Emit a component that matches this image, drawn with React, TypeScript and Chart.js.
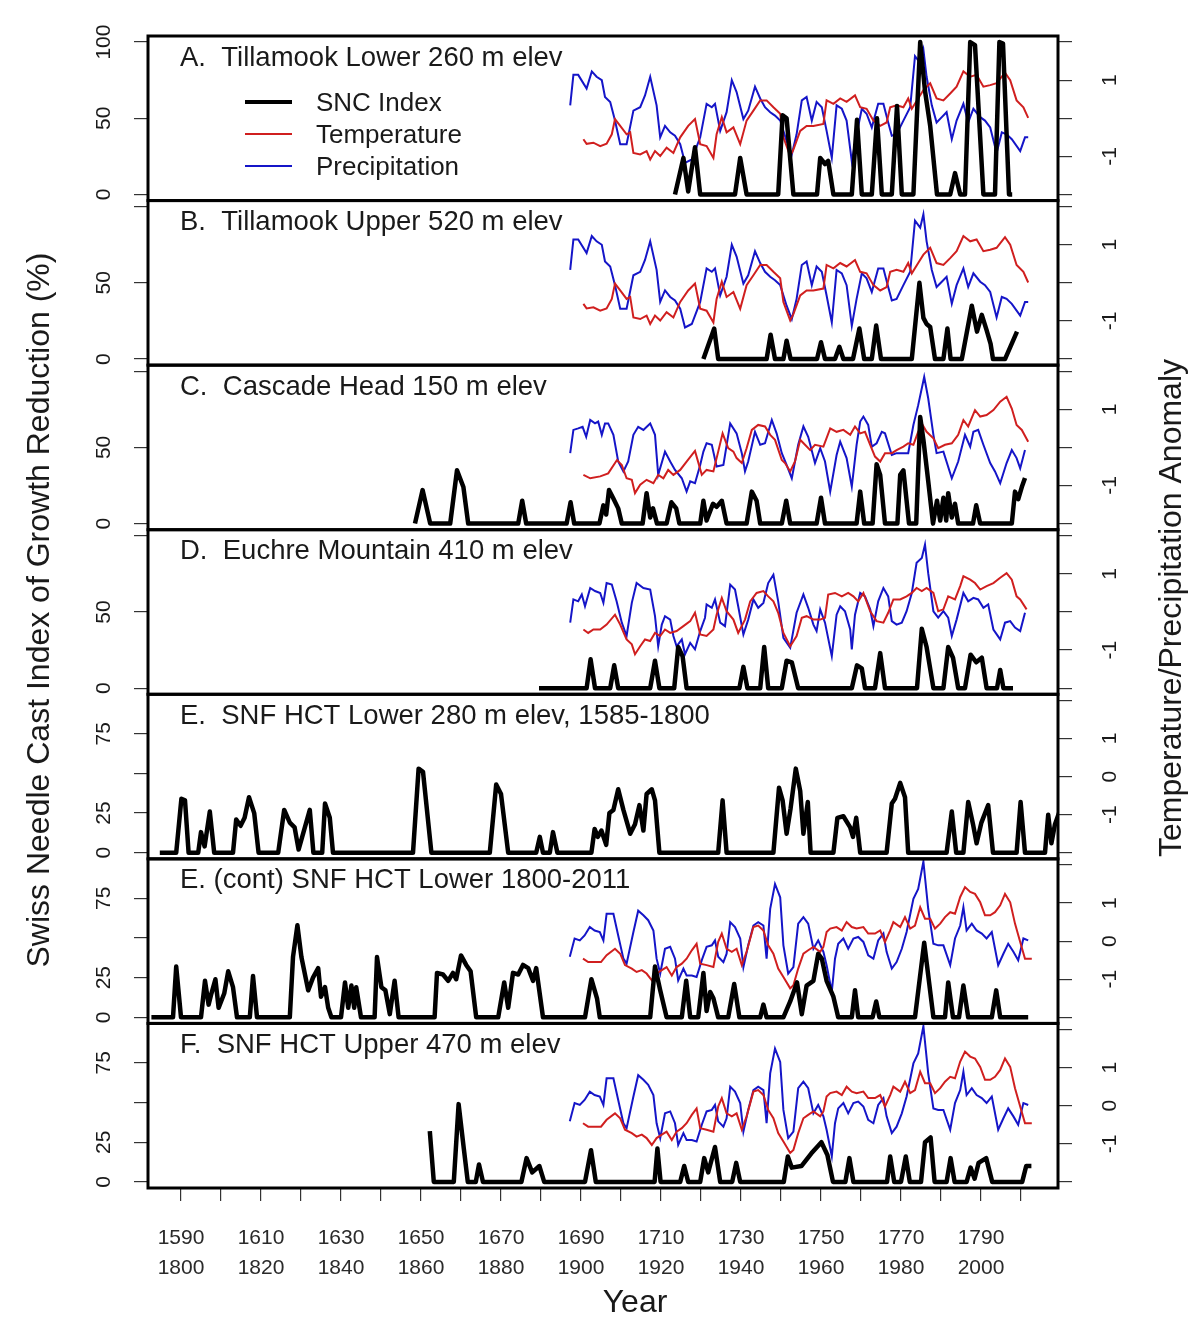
import React, { useEffect, useRef } from 'react';
import { Chart, registerables } from 'chart.js';
Chart.register(...registerables);

type Pt = [number, number];

// ---------- x axis (years) ----------
const X_TICK_YEARS = [1590, 1600, 1610, 1620, 1630, 1640, 1650, 1660, 1670, 1680, 1690, 1700, 1710, 1720, 1730, 1740, 1750, 1760, 1770, 1780, 1790, 1800];
const X_LABEL_UPPER = [1590, 1610, 1630, 1650, 1670, 1690, 1710, 1730, 1750, 1770, 1790];
const X_LABEL_LOWER = [1800, 1820, 1840, 1860, 1880, 1900, 1920, 1940, 1960, 1980, 2000];
const MODERN_OFFSET = 210; // 1800-2011 panels share the axis with 1590-1800

// ---------- SNC index series (year, % growth reduction) ----------
const SNC_A: Pt[] = [[1923.5,0],[1925.6,24],[1926.8,2],[1928.5,31],[1929.8,0],[1938.5,0],[1939.8,24],[1941.4,0],[1949.3,0],[1950.4,52],[1951.4,50],[1953.1,0],[1959,0],[1959.8,24],[1961,20],[1961.8,22],[1963.1,0],[1967.7,0],[1969,49],[1970.2,0],[1972.7,0],[1974,50],[1975.2,0],[1977.7,0],[1979,58],[1980.2,0],[1983.1,0],[1984.8,100],[1986,68],[1987.3,45],[1989,0],[1992.3,0],[1993.5,14],[1994.8,0],[1996,0],[1997.3,100],[1998.5,98],[2000.6,0],[2003.5,0],[2004.6,100],[2005.5,99],[2007,0],[2007.8,0]];
const SNC_B: Pt[] = [[1930.6,0],[1933.3,20],[1934.3,0],[1946.4,0],[1947.4,16],[1948.5,0],[1950.6,0],[1951.4,12],[1952.4,0],[1959,0],[1960,11],[1961,0],[1963.5,0],[1964.6,8],[1965.6,0],[1968,0],[1969.6,20],[1970.8,0],[1972.7,0],[1973.8,22],[1975,0],[1982.7,0],[1984.6,50],[1985.6,27],[1986.4,23],[1987.3,21],[1988.5,0],[1990.6,0],[1991.6,20],[1992.4,0],[1995.2,0],[1997.7,35],[1999,18],[2000.2,29],[2001.4,19],[2002.4,10],[2003,0],[2006,0],[2009,18]];
const SNC_C: Pt[] = [[1858.5,0],[1860.4,22],[1862.3,0],[1867.3,0],[1869,35],[1870.6,24],[1871.8,0],[1884.3,0],[1885.3,15],[1886.3,0],[1896.4,0],[1897.4,14],[1898.3,0],[1904.6,0],[1905.6,12],[1906.3,6],[1907,22],[1908,17],[1909.3,10],[1910.2,0],[1915.4,0],[1916.4,20],[1917.3,4],[1918,10],[1919,0],[1921.4,0],[1922.6,14],[1923.8,10],[1924.6,0],[1929.8,0],[1930.6,15],[1931.4,2],[1933,13],[1933.9,11],[1935.2,15],[1936.4,0],[1941.4,0],[1942.7,21],[1943.9,15],[1944.8,0],[1950.2,0],[1951.3,15],[1952.3,0],[1958.9,0],[1960,17],[1961,0],[1968.9,0],[1969.8,21],[1970.8,0],[1972.9,0],[1973.9,39],[1974.8,32],[1976,0],[1979.1,0],[1979.8,32],[1980.6,35],[1982,0],[1983.8,0],[1984.8,70],[1985.6,55],[1986.8,28],[1988,0],[1989,15],[1989.8,2],[1990.6,17],[1991.3,2],[1991.8,20],[1992.7,4],[1993.5,13],[1994.3,0],[1998,0],[1998.8,12],[1999.8,0],[2007.7,0],[2008.5,21],[2009.3,16],[2010.2,24],[2011,30]];
const SNC_D: Pt[] = [[1889.5,0],[1901.4,0],[1902.4,19],[1903.5,0],[1907.3,0],[1908.3,15],[1909.3,0],[1917.3,0],[1918.5,18],[1919.6,0],[1923.3,0],[1924.3,27],[1925.4,21],[1926.4,0],[1939.6,0],[1940.6,14],[1941.6,0],[1944.8,0],[1945.8,27],[1946.8,0],[1950.2,0],[1951.4,18],[1952.7,17],[1954.3,0],[1967.7,0],[1969,15],[1970.2,13],[1971,0],[1973.5,0],[1974.8,23],[1976,0],[1984,0],[1985.2,39],[1986.4,27],[1988.1,0],[1990.6,0],[1991.8,27],[1993,20],[1994.3,0],[1996,0],[1997.4,22],[1998.8,17],[2000.2,20],[2001.4,0],[2004,0],[2004.8,12],[2005.6,0],[2008,0]];
const SNC_E: Pt[] = [[1584.7,0],[1588.8,0],[1590.1,34],[1591,33],[1591.9,0],[1594.3,0],[1595,13],[1595.9,4],[1597.2,26],[1598.3,0],[1603,0],[1603.8,21],[1604.9,17],[1605.9,22],[1607,35],[1608.3,25],[1609.4,0],[1614.3,0],[1615.8,27],[1617.2,19],[1618.4,16],[1619.4,2],[1622.2,27],[1623.1,0],[1625.3,0],[1626,31],[1627.2,22],[1628,0],[1648,0],[1649.4,53],[1650.5,51],[1652.6,0],[1667.2,0],[1668.8,43],[1670,37],[1671.8,0],[1678.8,0],[1679.7,10],[1680.5,0],[1682.2,0],[1683,13],[1684.1,0],[1692.6,0],[1693.4,15],[1694.2,10],[1695.1,14],[1696.3,5],[1697.1,25],[1698.1,27],[1699.3,40],[1700.6,27],[1702.3,12],[1703.5,18],[1704.6,30],[1705.6,14],[1706.4,37],[1707.7,40],[1708.5,33],[1709.6,0],[1724.3,0],[1725.4,33],[1726.4,0],[1738.1,0],[1739.5,41],[1740.4,33],[1741.4,12],[1742.4,28],[1743.7,53],[1744.8,39],[1745.6,12],[1746.7,32],[1747.4,0],[1753.1,0],[1754.1,22],[1755.6,23],[1757.3,16],[1758,10],[1758.8,22],[1759.8,0],[1766.4,0],[1767.7,31],[1768.5,34],[1769.8,44],[1771,35],[1771.8,0],[1781.4,0],[1782.7,26],[1783.8,0],[1785.6,0],[1786.8,32],[1788,18],[1788.9,6],[1790.1,19],[1791.8,30],[1793,0],[1798.9,0],[1799.9,32],[1801,0],[1806,0],[1806.8,24],[1807.6,6],[1808.5,18],[1809.5,25]];
const SNC_E2: Pt[] = [[1792.6,0],[1798,0],[1798.8,32],[1800,0],[1805,0],[1806,23],[1806.9,8],[1807.6,15],[1808.6,24],[1809.4,6],[1810.8,15],[1811.8,29],[1813,19],[1814,0],[1817.2,0],[1818,26],[1819,0],[1827.2,0],[1828,38],[1829.1,58],[1830.1,38],[1831.8,17],[1833,25],[1834.3,31],[1835,13],[1836,19],[1836.8,6],[1837.6,0],[1840,0],[1841,22],[1841.8,6],[1842.6,20],[1843.3,6],[1843.8,19],[1845,0],[1848.4,0],[1849,38],[1850.1,19],[1851.1,17],[1852.2,2],[1853.4,23],[1854.4,0],[1863.4,0],[1864,28],[1865.5,27],[1866.8,23],[1868,28],[1868.8,24],[1870,39],[1871.3,33],[1872.4,29],[1873.8,0],[1879.3,0],[1880.8,22],[1881.8,6],[1883,28],[1884.3,27],[1885.5,33],[1886.8,31],[1888,23],[1888.8,31],[1890.5,0],[1901,0],[1902.6,24],[1904,12],[1904.7,0],[1917.3,0],[1918.5,32],[1919.8,17],[1921.4,0],[1925.2,0],[1926.3,23],[1927.3,0],[1929.3,0],[1930.6,28],[1931.4,4],[1932.3,16],[1933.1,12],[1934.3,0],[1936.8,0],[1938.3,21],[1939.6,0],[1944.8,0],[1945.6,8],[1946.4,0],[1950.6,0],[1952.3,10],[1954,22],[1955.2,2],[1956.4,20],[1958.1,23],[1959.3,40],[1960.2,37],[1961.4,23],[1963.1,13],[1964.3,0],[1967.7,0],[1968.5,17],[1969.3,0],[1972.9,0],[1973.8,10],[1974.6,0],[1983.5,0],[1985.8,47],[1988.1,0],[1991,0],[1991.8,22],[1993,0],[1994.5,0],[1995.6,20],[1996.8,0],[2002.7,0],[2003.8,17],[2004.8,0],[2011.8,0]];
const SNC_F: Pt[] = [[1862.2,32],[1863.2,0],[1868.2,0],[1869.4,49],[1870.7,21],[1871.7,0],[1873.7,0],[1874.5,11],[1875.5,0],[1885.1,0],[1886.4,15],[1887.8,6],[1889.6,10],[1890.8,0],[1901,0],[1902.5,20],[1903.7,0],[1918.4,0],[1919.1,21],[1919.9,0],[1924.8,0],[1925.8,10],[1926.8,0],[1929.8,0],[1930.8,15],[1931.8,6],[1933.5,22],[1934.8,0],[1937.8,0],[1938.8,12],[1939.8,0],[1950.7,0],[1951.7,16],[1952.7,9],[1955.1,10],[1957.6,18],[1960.1,25],[1961.6,17],[1963,0],[1966.1,0],[1967.1,15],[1968.1,0],[1976.5,0],[1977.3,16],[1978.3,0],[1980,0],[1981.2,16],[1982.2,0],[1985,0],[1986,25],[1987.4,28],[1988.4,0],[1991.4,0],[1992.4,15],[1993.4,0],[1996.4,0],[1997.4,9],[1998.4,2],[1999.4,12],[2001.3,15],[2002.8,0],[2010.3,0],[2011.3,10],[2012.6,10]];

// ---------- climate anomalies (year, anomaly) ----------
const TEMP_TILLAMOOK: Pt[] = [[1900.6,-0.55],[1901.4,-0.67],[1903.1,-0.64],[1904.8,-0.73],[1906.4,-0.67],[1907.7,-0.42],[1908.5,-0.02],[1909.8,-0.2],[1911.4,-0.42],[1912.3,-0.37],[1913.1,-0.91],[1914.8,-0.95],[1916.4,-0.86],[1917.3,-1.08],[1918.5,-0.86],[1919.8,-0.99],[1921.4,-0.77],[1923.1,-0.91],[1924.8,-0.5],[1926.8,-0.2],[1928.5,-0.02],[1929.8,-0.68],[1931.4,-0.73],[1933.1,-1.04],[1933.9,-0.42],[1935.2,0.03],[1936.4,-0.37],[1938.1,-0.24],[1939.8,-0.68],[1941.4,-0.06],[1943.1,0.2],[1944.8,0.47],[1946.4,0.47],[1948.1,0.29],[1949.8,0.12],[1950.6,-0.5],[1952.3,-0.99],[1953.1,-0.82],[1954.8,-0.33],[1956.4,-0.2],[1958.1,-0.2],[1960.6,-0.15],[1961.4,0.47],[1963.1,0.38],[1964.8,0.52],[1966.4,0.43],[1968.5,0.6],[1969.8,0.29],[1971.4,0.25],[1973.1,-0.06],[1974.8,-0.2],[1976.4,-0.11],[1977.3,0.29],[1978.9,0.34],[1980.6,0.29],[1981.8,0.52],[1982.7,0.25],[1984.3,0.52],[1985.6,0.74],[1987.3,0.92],[1988.9,0.52],[1990.6,0.47],[1992.3,0.65],[1993.9,0.83],[1995.6,1.23],[1997.3,1.09],[1998.9,1.14],[2000.6,0.83],[2002.3,0.87],[2003.9,0.92],[2006,1.2],[2007.3,1.0],[2008.9,0.47],[2010.6,0.29],[2011.8,0.01]];
const PRECIP_TILLAMOOK: Pt[] = [[1897.3,0.34],[1898.1,1.14],[1899.3,1.14],[1901.4,0.78],[1902.7,1.23],[1903.9,1.09],[1905.2,1.0],[1906,0.56],[1907.3,0.43],[1908.5,-0.06],[1909.8,-0.68],[1911.4,-0.68],[1913.1,0.2],[1914.8,0.29],[1916,0.6],[1917.3,1.09],[1918.9,0.34],[1919.8,-0.5],[1921,-0.2],[1922.3,-0.37],[1923.5,-0.46],[1924.8,-0.68],[1926,-1.17],[1927.7,-1.08],[1929.8,-0.5],[1931.4,0.38],[1932.7,0.29],[1933.5,0.38],[1934.8,-0.33],[1936.4,0.16],[1937.7,1.0],[1938.9,0.69],[1940.6,-0.02],[1941.8,0.2],[1943.5,0.83],[1944.8,0.52],[1946,0.29],[1947.3,0.16],[1948.5,0.07],[1949.8,-0.06],[1951.4,-0.6],[1952.7,-0.95],[1953.9,-0.42],[1955.2,0.47],[1956.4,0.56],[1957.7,-0.06],[1958.9,0.43],[1960.2,0.29],[1961.4,-0.33],[1962.7,-1.04],[1963.9,0.34],[1965.2,0.25],[1966.4,-0.06],[1967.7,-1.13],[1968.9,-0.42],[1970.2,0.25],[1971.4,0.12],[1972.7,-0.24],[1974.3,0.38],[1975.6,0.38],[1976.8,-0.11],[1977.7,-0.46],[1978.9,-0.42],[1980.6,-0.06],[1982.3,0.29],[1983.5,1.63],[1984.8,1.45],[1985.6,1.8],[1986.4,1.09],[1987.7,0.34],[1988.9,-0.11],[1990.2,0.03],[1991.4,0.16],[1992.7,-0.55],[1993.9,-0.06],[1995.6,0.38],[1996.8,-0.11],[1998.1,0.25],[1999.8,0.03],[2001,-0.06],[2002.3,-0.24],[2003.9,-0.91],[2005.2,-0.37],[2006.4,-0.42],[2007.7,-0.55],[2009.8,-0.86],[2011,-0.5],[2011.8,-0.5]];
const TEMP_CASCADE: Pt[] = [[1900.6,-0.72],[1902.3,-0.81],[1904.8,-0.76],[1906.8,-0.68],[1909,-0.33],[1910.2,-0.46],[1911.4,-0.81],[1912.7,-0.85],[1913.5,-1.2],[1914.8,-0.98],[1916.4,-0.85],[1918.1,-0.94],[1919.3,-0.72],[1920.6,-0.81],[1921.8,-0.59],[1923.1,-0.72],[1924.8,-0.59],[1926.4,-0.37],[1928.5,-0.09],[1930.2,-0.72],[1931.4,-0.59],[1933.1,-0.63],[1934.3,-0.11],[1935.4,0.37],[1936.8,-0.02],[1938.1,-0.11],[1938.9,-0.28],[1940.2,-0.41],[1941.4,-0.02],[1942.7,0.46],[1944.3,0.59],[1946,0.55],[1947.3,0.33],[1948.5,0.2],[1950.2,-0.33],[1951,-0.41],[1952.3,-0.63],[1953.5,-0.37],[1954.8,0.2],[1956,0.07],[1957.3,-0.07],[1958.5,0.07],[1960.6,0.02],[1962.3,0.5],[1963.9,0.41],[1965.6,0.46],[1967.3,0.33],[1968.5,0.55],[1969.8,0.37],[1971,0.41],[1972.3,0.07],[1973.5,-0.24],[1974.8,-0.37],[1976,-0.15],[1977.7,-0.15],[1978.9,-0.07],[1980.6,0.02],[1981.8,0.11],[1983.1,0.07],[1984.3,0.41],[1985.4,0.59],[1986.4,0.41],[1988.1,0.24],[1989.3,-0.02],[1991,0.07],[1992.7,0.11],[1994.3,0.33],[1995.6,0.72],[1996.8,0.55],[1998.5,0.98],[1999.8,0.81],[2001.4,0.85],[2003.1,0.98],[2004.8,1.2],[2006.4,1.33],[2007.7,1.02],[2008.9,0.59],[2010.2,0.46],[2011.8,0.15]];
const PRECIP_CASCADE: Pt[] = [[1897.3,-0.15],[1898.1,0.46],[1899.3,0.5],[1900.4,0.54],[1901.3,0.28],[1902.3,0.72],[1903.5,0.63],[1904.3,0.68],[1905.2,0.33],[1906,0.63],[1906.8,0.63],[1908.1,0.33],[1909.3,-0.37],[1910.6,-0.63],[1911.8,-0.37],[1913.1,0.33],[1914.3,0.54],[1915.6,0.46],[1917.3,0.63],[1918.5,0.33],[1919.3,-0.72],[1921,-0.11],[1922.3,-0.37],[1923.5,-0.59],[1925.2,-0.81],[1926.4,-1.16],[1927.3,-0.89],[1928.5,-0.94],[1929.8,-0.46],[1930.6,-0.11],[1931.4,0.11],[1932.7,0.07],[1933.9,-0.5],[1935.6,-0.46],[1937.3,0.63],[1938.9,0.37],[1940.2,-0.15],[1941,-0.63],[1941.8,-0.37],[1943.5,0.41],[1944.8,0.07],[1946,0.11],[1947.7,0.72],[1948.9,0.37],[1950.2,-0.15],[1951.4,-0.46],[1952.7,-0.81],[1954.3,0.07],[1955.6,0.55],[1956.8,0.28],[1958.5,-0.41],[1959.8,-0.02],[1961,-0.37],[1962.3,-1.16],[1963.9,-0.2],[1964.8,0.15],[1966.4,-0.28],[1967.7,-1.03],[1968.9,0.07],[1969.8,0.68],[1970.6,0.81],[1971.8,0.59],[1972.7,0.02],[1973.9,0.11],[1975.2,0.41],[1976,0.37],[1977.7,-0.2],[1978.9,-0.15],[1980.2,-0.15],[1981.8,-0.15],[1983.1,0.59],[1984.3,1.11],[1985.8,1.85],[1986.8,1.29],[1988.1,0.33],[1988.9,-0.15],[1990.6,-0.11],[1992.7,-0.81],[1994.3,-0.37],[1996,0.33],[1997.3,0.02],[1998.1,0.41],[1999.3,0.46],[2000.6,0.07],[2002.3,-0.41],[2003.5,-0.63],[2004.8,-0.94],[2006.4,-0.41],[2007.7,-0.07],[2008.9,-0.28],[2009.8,-0.55],[2011,-0.07]];
const TEMP_EUCHRE: Pt[] = [[1900.6,-0.46],[1901.8,-0.55],[1903.1,-0.46],[1904.8,-0.46],[1906.4,-0.33],[1908.5,-0.07],[1909.8,-0.33],[1911.4,-0.72],[1912.7,-0.85],[1913.5,-1.11],[1914.8,-0.9],[1916,-0.72],[1917.3,-0.76],[1918.5,-0.55],[1919.8,-0.63],[1921,-0.46],[1922.3,-0.55],[1923.9,-0.5],[1925.6,-0.37],[1927.3,-0.24],[1928.5,-0.02],[1929.8,-0.59],[1931.4,-0.63],[1933.1,-0.46],[1933.9,-0.07],[1935.2,0.37],[1936.4,0.02],[1938.1,-0.2],[1939.3,-0.55],[1941,-0.2],[1942.3,0.28],[1943.9,0.5],[1945.6,0.55],[1946.8,0.41],[1948.1,0.28],[1949.3,-0.02],[1950.6,-0.55],[1952.3,-0.9],[1953.9,-0.63],[1955.2,-0.15],[1956.4,-0.11],[1958.1,-0.2],[1959.8,-0.2],[1961,-0.15],[1961.8,0.46],[1963.5,0.5],[1965.2,0.41],[1966.8,0.5],[1968.1,0.41],[1969.3,0.28],[1970.6,0.5],[1972.3,0.02],[1973.9,-0.24],[1975.6,-0.28],[1976.8,-0.02],[1978.1,0.33],[1979.8,0.33],[1981.4,0.41],[1982.7,0.5],[1983.9,0.63],[1985.2,0.55],[1986.4,0.63],[1988.1,0.5],[1989.3,0.02],[1990.6,0.07],[1991.8,0.41],[1993.5,0.33],[1994.8,0.68],[1995.6,0.94],[1997.3,0.85],[1998.5,0.76],[1999.8,0.59],[2001.4,0.68],[2003.1,0.76],[2004.8,0.9],[2006.4,1.02],[2007.7,0.85],[2008.9,0.41],[2009.8,0.33],[2011.4,0.07]];
const PRECIP_EUCHRE: Pt[] = [[1897.3,-0.28],[1898.1,0.33],[1899.3,0.28],[1900.2,0.46],[1901,0.15],[1902.3,0.63],[1903.5,0.55],[1904.8,0.5],[1905.6,0.24],[1906.4,0.76],[1907.7,0.72],[1908.9,0.28],[1910.2,-0.28],[1911.4,-0.63],[1912.7,0.24],[1913.9,0.76],[1915.6,0.63],[1917.3,0.59],[1918.5,-0.11],[1919.3,-0.9],[1920.2,-0.33],[1921,-0.11],[1922.3,-0.2],[1923.1,-0.63],[1923.9,-0.9],[1925.2,-0.72],[1926,-1.11],[1927.3,-0.81],[1928.5,-0.98],[1929.8,-0.5],[1931,-0.15],[1931.4,0.2],[1932.7,0.11],[1933.5,0.33],[1934.8,-0.28],[1936,-0.37],[1937.3,0.72],[1938.5,0.59],[1939.3,0.15],[1940.6,-0.59],[1941.8,-0.2],[1943.1,0.33],[1944.3,0.11],[1945.6,0.24],[1946.8,0.76],[1948.1,0.98],[1949.3,0.28],[1950.6,-0.68],[1952.3,-0.94],[1953.9,-0.02],[1955.6,0.46],[1956.8,0.11],[1958.1,-0.33],[1958.9,-0.5],[1959.8,0.07],[1961,-0.28],[1962.7,-1.16],[1963.9,-0.07],[1964.8,0.15],[1966,0.02],[1967.3,-0.46],[1967.7,-0.98],[1968.5,-0.07],[1969.8,0.5],[1971,0.41],[1972.3,0.07],[1973.1,-0.37],[1974.3,0.28],[1975.6,0.63],[1976.8,0.41],[1977.7,-0.24],[1978.9,-0.33],[1980.2,-0.28],[1981.4,0.02],[1982.7,0.5],[1983.9,1.29],[1985.2,1.42],[1986,1.77],[1986.8,1.02],[1988.1,0.02],[1989.3,-0.15],[1990.6,0.02],[1991.8,-0.15],[1992.7,-0.63],[1993.9,-0.2],[1995.6,0.5],[1996.8,0.28],[1998.1,0.37],[1999.3,0.33],[2000.6,0.11],[2001.8,0.2],[2003.1,-0.46],[2004.8,-0.72],[2006,-0.28],[2007.3,-0.24],[2008.5,-0.41],[2009.8,-0.5],[2011,-0.02]];
const TEMP_HCT: Pt[] = [[1900.5,-0.46],[1901.8,-0.55],[1903.4,-0.55],[1905,-0.55],[1906.4,-0.37],[1908.5,-0.2],[1909.8,-0.33],[1911,-0.63],[1912.7,-0.72],[1913.9,-0.81],[1915.2,-0.76],[1916.4,-0.85],[1917.7,-1.03],[1918.9,-0.85],[1920.2,-0.76],[1921.4,-0.68],[1922.7,-0.9],[1923.9,-0.68],[1925.2,-0.59],[1926.4,-0.46],[1927.7,-0.24],[1928.9,-0.07],[1929.8,-0.59],[1931.4,-0.63],[1933.1,-0.68],[1934.3,-0.02],[1935.2,0.2],[1936.4,-0.2],[1937.7,-0.28],[1938.9,-0.2],[1940.2,-0.63],[1941.4,-0.28],[1943.1,0.37],[1944.3,0.41],[1945.6,0.28],[1946.8,-0.11],[1948.1,-0.33],[1949.3,-0.72],[1950.6,-0.94],[1952.3,-1.24],[1953.1,-1.16],[1954.3,-0.72],[1955.6,-0.33],[1956.8,-0.24],[1958.1,-0.15],[1959.8,-0.28],[1960.6,-0.15],[1961.4,0.24],[1962.3,0.33],[1963.9,0.37],[1965.2,0.28],[1966.4,0.5],[1967.7,0.37],[1968.9,0.33],[1970.6,0.37],[1971.8,0.2],[1973.5,0.2],[1974.8,0.28],[1976,-0.02],[1977.3,0.28],[1978.1,0.5],[1979.8,0.37],[1981,0.63],[1982.3,0.33],[1983.5,0.41],[1984.8,0.89],[1986,0.59],[1987.3,0.59],[1988.5,0.33],[1989.8,0.46],[1991,0.63],[1992.3,0.76],[1993.5,0.72],[1994.8,1.16],[1996,1.42],[1997.3,1.29],[1998.5,1.24],[1999.8,1.02],[2001,0.68],[2002.3,0.68],[2003.5,0.76],[2004.8,0.94],[2006,1.24],[2007.3,1.02],[2008.5,0.46],[2009.8,-0.02],[2011,-0.46],[2012.7,-0.46]];
const PRECIP_HCT: Pt[] = [[1897.2,-0.41],[1898.4,0.07],[1899.7,0.02],[1900.9,0.15],[1902.2,0.37],[1903.4,0.28],[1904.7,0.24],[1905.6,0.02],[1906.4,0.72],[1908.1,0.72],[1909.3,0.15],[1910.6,-0.46],[1911.4,-0.59],[1913.1,0.24],[1914.3,0.8],[1915.6,0.68],[1916.8,0.55],[1918.1,0.28],[1918.9,-0.46],[1919.8,-0.85],[1921,-0.2],[1922.3,-0.15],[1923.5,-0.46],[1924.3,-1.03],[1925.6,-0.72],[1926.4,-0.9],[1927.7,-0.9],[1928.9,-0.94],[1930.2,-0.5],[1931.4,-0.15],[1932.7,-0.11],[1933.5,0.02],[1934.3,-0.41],[1935.6,-0.55],[1936.4,-0.33],[1937.3,0.5],[1938.5,0.37],[1939.8,0.07],[1940.6,-0.68],[1941.8,-0.11],[1943.1,0.41],[1944.3,0.5],[1945.6,0.41],[1946.4,-0.46],[1947.3,0.85],[1948.5,1.5],[1949.8,1.15],[1950.6,-0.11],[1951.8,-0.85],[1953.1,-0.68],[1954.3,0.46],[1955.6,0.63],[1956.8,0.46],[1958.1,-0.2],[1959.3,0.02],[1960.6,-0.28],[1961.4,-0.63],[1962.7,-1.33],[1963.5,-0.46],[1964.3,-0.07],[1965.6,0.07],[1966.8,-0.2],[1968.1,0.07],[1969.3,0.11],[1970.6,-0.02],[1971.8,-0.37],[1973.1,-0.46],[1974.3,0.02],[1975.6,0.2],[1976.4,-0.28],[1977.7,-0.72],[1978.9,-0.55],[1980.2,-0.2],[1981.4,0.24],[1983.1,1.11],[1984.3,1.37],[1985.6,2.09],[1986.8,0.85],[1988.1,-0.07],[1989.3,-0.11],[1990.6,-0.11],[1992.3,-0.63],[1993.5,0.07],[1994.8,0.41],[1995.6,0.89],[1996.4,0.28],[1997.7,0.46],[1998.9,0.28],[2000.2,0.2],[2001.4,0.07],[2002.7,0.24],[2004.3,-0.63],[2005.6,-0.33],[2006.8,-0.07],[2008.1,-0.28],[2009.3,-0.5],[2010.6,0.07],[2011.8,0.02]];

// ---------- panels ----------
const PANEL_TITLES = [
  'A.  Tillamook Lower 260 m elev',
  'B.  Tillamook Upper 520 m elev',
  'C.  Cascade Head 150 m elev',
  'D.  Euchre Mountain 410 m elev',
  'E.  SNF HCT Lower 280 m elev, 1585-1800',
  'E. (cont) SNF HCT Lower 1800-2011',
  'F.  SNF HCT Upper 470 m elev',
];
const PANEL_SNC = [SNC_A, SNC_B, SNC_C, SNC_D, SNC_E, SNC_E2, SNC_F];
const PANEL_TEMP: (Pt[] | null)[] = [TEMP_TILLAMOOK, TEMP_TILLAMOOK, TEMP_CASCADE, TEMP_EUCHRE, null, TEMP_HCT, TEMP_HCT];
const PANEL_PRECIP: (Pt[] | null)[] = [PRECIP_TILLAMOOK, PRECIP_TILLAMOOK, PRECIP_CASCADE, PRECIP_EUCHRE, null, PRECIP_HCT, PRECIP_HCT];
const PANEL_OFFSET = [MODERN_OFFSET, MODERN_OFFSET, MODERN_OFFSET, MODERN_OFFSET, 0, MODERN_OFFSET, MODERN_OFFSET];
const LEFT_RANGE: Pt[] = [[-4, 104], [-4, 104], [-4, 104], [-4, 104], [-3.84, 99.84], [-3.84, 99.84], [-3.84, 99.84]];
const LEFT_TICKS = [[0, 50, 100], [0, 50, 100], [0, 50, 100], [0, 50, 100], [0, 25, 50, 75], [0, 25, 50, 75], [0, 25, 50, 75]];
const LEFT_LABELS = [[0, 50, 100], [0, 50], [0, 50], [0, 50], [0, 25, 75], [0, 25, 75], [0, 25, 75]];
const RIGHT_TICKS = [-2, -1, 0, 1, 2];
const RIGHT_LABELS = [[-1, 1], [-1, 1], [-1, 1], [-1, 1], [-1, 0, 1], [-1, 0, 1], [-1, 0, 1]];
const LEGEND_LABELS = ['SNC Index', 'Temperature', 'Precipitation'];

const BLACK = '#000000';
const RED = '#d01f1f';
const BLUE = '#1515c8';
const FONT = '"Liberation Sans", Arial, sans-serif';

const toXY = (pts: Pt[], off: number) => pts.map(([yr, v]) => ({ x: yr - off, y: v }));

const decorPlugin = {
  id: 'decor',
  afterDatasetsDraw(chart: any) {
    const { ctx, chartArea } = chart;
    ctx.save();
    ctx.fillStyle = '#1a1a1a';
    for (let i = 0; i < PANEL_TITLES.length; i++) {
      const L = chart.scales['L' + i];
      const R = chart.scales['R' + i];
      ctx.strokeStyle = BLACK;
      ctx.lineWidth = 3;
      ctx.strokeRect(chartArea.left, L.top, chartArea.right - chartArea.left, L.bottom - L.top);
      ctx.font = `27.5px ${FONT}`;
      ctx.textAlign = 'left';
      ctx.textBaseline = 'middle';
      ctx.fillText(PANEL_TITLES[i], 180, L.top + 22);
      ctx.font = `21px ${FONT}`;
      for (const v of LEFT_LABELS[i]) {
        const y = L.getPixelForValue(v);
        ctx.save();
        ctx.translate(104, y);
        ctx.rotate(-Math.PI / 2);
        ctx.textAlign = 'center';
        ctx.textBaseline = 'middle';
        ctx.fillText(String(v), 0, 0);
        ctx.restore();
      }
      for (const v of RIGHT_LABELS[i]) {
        const y = R.getPixelForValue(v);
        ctx.save();
        ctx.translate(1110, y);
        ctx.rotate(-Math.PI / 2);
        ctx.textAlign = 'center';
        ctx.textBaseline = 'middle';
        ctx.fillText(String(v), 0, 0);
        ctx.restore();
      }
    }
    const colors = [BLACK, RED, BLUE];
    const widths = [4, 2, 2];
    const L0 = chart.scales['L0'];
    ctx.font = `26px ${FONT}`;
    ctx.textAlign = 'left';
    ctx.textBaseline = 'middle';
    for (let k = 0; k < 3; k++) {
      const y = L0.top + 66 + k * 32;
      ctx.strokeStyle = colors[k];
      ctx.lineWidth = widths[k];
      ctx.beginPath();
      ctx.moveTo(245, y);
      ctx.lineTo(292, y);
      ctx.stroke();
      ctx.fillText(LEGEND_LABELS[k], 316, y + 2);
    }
    ctx.font = `32px ${FONT}`;
    ctx.textAlign = 'center';
    ctx.fillText('Year', 635, 1303);
    ctx.save();
    ctx.translate(40, 610);
    ctx.rotate(-Math.PI / 2);
    ctx.fillText('Swiss Needle Cast Index of Growth Reduction (%)', 0, 0);
    ctx.restore();
    ctx.save();
    ctx.translate(1172, 608);
    ctx.rotate(-Math.PI / 2);
    ctx.fillText('Temperature/Precipitation Anomaly', 0, 0);
    ctx.restore();
    ctx.restore();
  },
};

export default function App() {
  const ref = useRef<HTMLCanvasElement | null>(null);
  useEffect(() => {
    if (!ref.current) return;
    const datasets: any[] = [];
    const scales: any = {
      x: {
        type: 'linear',
        position: 'bottom',
        min: 1581.75,
        max: 1809.25,
        afterBuildTicks: (ax: any) => { ax.ticks = X_TICK_YEARS.map((v) => ({ value: v })); },
        afterFit: (ax: any) => { ax.height = 140; },
        border: { display: false },
        grid: { display: true, drawOnChartArea: false, drawTicks: true, tickLength: 13, color: '#333', lineWidth: 1.2 },
        ticks: {
          autoSkip: false,
          maxRotation: 0,
          minRotation: 0,
          padding: 23,
          color: '#2a2a2a',
          font: { family: FONT, size: 21, lineHeight: 1.4 },
          callback: (v: any) => {
            const idx = X_LABEL_UPPER.indexOf(Number(v));
            return idx >= 0 ? [String(X_LABEL_UPPER[idx]), String(X_LABEL_LOWER[idx])] : '';
          },
        },
      },
    };
    for (let i = 0; i < PANEL_TITLES.length; i++) {
      scales['L' + i] = {
        type: 'linear', position: 'left', stack: 'left', stackWeight: 1, weight: 10 - i,
        min: LEFT_RANGE[i][0], max: LEFT_RANGE[i][1],
        afterBuildTicks: (ax: any) => { ax.ticks = LEFT_TICKS[i].map((v) => ({ value: v })); },
        afterFit: (ax: any) => { ax.width = 148; },
        border: { display: false },
        grid: { display: true, drawOnChartArea: false, drawTicks: true, tickLength: 14, color: '#333', lineWidth: 1.2 },
        ticks: { display: false },
      };
      scales['R' + i] = {
        type: 'linear', position: 'right', stack: 'right', stackWeight: 1, weight: i,
        min: -2.16, max: 2.16,
        afterBuildTicks: (ax: any) => { ax.ticks = RIGHT_TICKS.map((v) => ({ value: v })); },
        afterFit: (ax: any) => { ax.width = 142; },
        border: { display: false },
        grid: { display: true, drawOnChartArea: false, drawTicks: true, tickLength: 14, color: '#333', lineWidth: 1.2 },
        ticks: { display: false },
      };
      datasets.push({
        label: 'SNC ' + i, data: toXY(PANEL_SNC[i], PANEL_OFFSET[i]), yAxisID: 'L' + i, xAxisID: 'x',
        borderColor: BLACK, borderWidth: 4.5, pointRadius: 0, tension: 0, borderJoinStyle: 'round', order: 0,
      });
      const t = PANEL_TEMP[i];
      const p = PANEL_PRECIP[i];
      if (t) datasets.push({
        label: 'Temp ' + i, data: toXY(t, PANEL_OFFSET[i]), yAxisID: 'R' + i, xAxisID: 'x',
        borderColor: RED, borderWidth: 2, pointRadius: 0, tension: 0, order: 1,
      });
      if (p) datasets.push({
        label: 'Precip ' + i, data: toXY(p, PANEL_OFFSET[i]), yAxisID: 'R' + i, xAxisID: 'x',
        borderColor: BLUE, borderWidth: 2, pointRadius: 0, tension: 0, order: 2,
      });
    }
    const chart = new Chart(ref.current, {
      type: 'line',
      data: { datasets },
      options: {
        responsive: false,
        animation: false,
        devicePixelRatio: 1,
        layout: { padding: { top: 36, left: 0, right: 0, bottom: 0 } },
        plugins: { legend: { display: false }, tooltip: { enabled: false }, title: { display: false } },
        scales,
      } as any,
      plugins: [decorPlugin],
    });
    return () => chart.destroy();
  }, []);
  return (
    <div style={{ position: 'absolute', left: 0, top: 0, width: 1200, height: 1328, background: '#fff' }}>
      <canvas ref={ref} width={1200} height={1328} />
    </div>
  );
}
